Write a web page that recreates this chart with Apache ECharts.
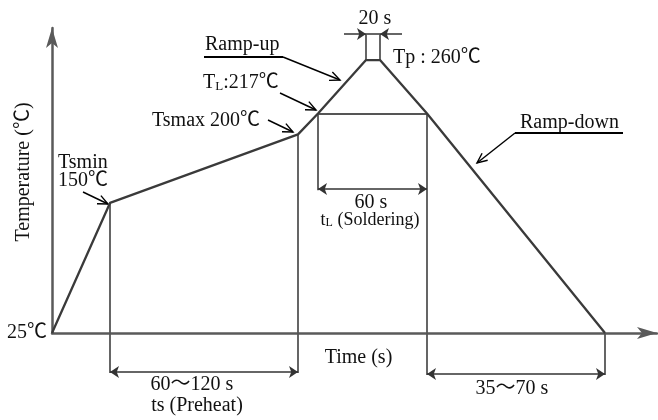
<!DOCTYPE html>
<html><head><meta charset="utf-8">
<script src="https://cdn.jsdelivr.net/npm/echarts@6/dist/echarts.min.js"></script>
<style>html,body{margin:0;padding:0;background:#fff}#c{width:658px;height:420px}</style>
</head><body><div id="c"></div>
<script>
// Reflow profile corner points as drawn (time in s, temperature in ℃)
const profileTime = [0, 29, 123, 133, 157, 164, 187.5, 276.5];
const profileTemp = [25, 137, 196, 214, 260, 260, 214, 25];
// Guide (extension) lines: [t1, T1, t2, T2]
const guideLines = [
  [29, 137, 29, -9.4],
  [123, 196, 123, -9.4],
  [133, 214, 133, 148],
  [187.5, 214, 187.5, -11.2],
  [276.5, 25, 276.5, -11.2],
  [133, 214, 187.5, 214],
  [157, 260, 157, 282.4],
  [164, 260, 164, 282.4],
  [157, 282.4, 164, 282.4]
];
// Double-headed dimension arrows: [t1, t2, T]
const dimensionLines = [
  [29, 123, -8.6],
  [133, 187.5, 149],
  [187.5, 276.5, -10.3]
];
// Peak-width arrows (pointing inward): [tFrom, tTo, T]
const peakArrows = [
  [146, 157, 282.4],
  [175, 164, 282.4]
];
const xAxisName = 'Time (s)';
const yAxisName = 'Temperature (℃)';
const ambientLabel = '25℃';

const chart = echarts.init(document.getElementById('c'), null, {renderer: 'canvas'});
const FONT = "'Liberation Serif','Times New Roman','Noto Sans CJK SC',serif";
const TXT = '#111';
const axisColor = '#5a5a5a';

function text(str, x, y, align, size, extra) {
  return Object.assign({
    type: 'text', x: x, y: y, silent: true,
    style: {text: str, fill: TXT, font: (size || 20) + 'px ' + FONT, align: align || 'left', verticalAlign: 'middle'}
  }, extra || {});
}
function richText(parts, x, y, align, size, subSize) {
  return {
    type: 'text', x: x, y: y, silent: true,
    style: {
      text: parts, align: align || 'left', verticalAlign: 'middle', fill: TXT,
      rich: {
        a: {fontFamily: FONT, fontSize: size, lineHeight: size, fill: TXT},
        s: {fontFamily: FONT, fontSize: subSize, lineHeight: subSize, fill: TXT, verticalAlign: 'bottom'}
      }
    }
  };
}
function pointer(x1, y1, x2, y2) {
  const ang = Math.atan2(y2 - y1, x2 - x1);
  const L = 11, a = 0.42;
  const p1 = [x2 - L * Math.cos(ang - a), y2 - L * Math.sin(ang - a)];
  const p2 = [x2 - L * Math.cos(ang + a), y2 - L * Math.sin(ang + a)];
  const st = {stroke: '#000', lineWidth: 1.4, fill: null};
  return [
    {type: 'line', silent: true, shape: {x1: x1, y1: y1, x2: x2, y2: y2}, style: st},
    {type: 'polyline', silent: true, shape: {points: [p1, [x2, y2], p2]}, style: st}
  ];
}

const option = {
  animation: false,
  backgroundColor: '#fff',
  grid: {left: 52, right: 1, top: 28, bottom: 87, containLabel: false, outerBoundsMode: 'none'},
  xAxis: {
    type: 'value', min: 0, max: 302.5,
    name: xAxisName, nameLocation: 'middle', nameGap: 15,
    nameTextStyle: {fontFamily: FONT, fontSize: 20, color: TXT, padding: [0, 0, 0, 8], verticalAlign: 'top'},
    axisLine: {onZero: false, symbol: ['none', 'arrow'], symbolSize: [9, 20], lineStyle: {color: axisColor, width: 2.5}},
    axisTick: {show: false}, axisLabel: {show: false}, splitLine: {show: false}
  },
  yAxis: {
    type: 'value', min: 25, max: 287.6,
    axisLine: {onZero: false, symbol: ['none', 'arrow'], symbolSize: [9, 20], lineStyle: {color: axisColor, width: 2.5}},
    axisTick: {show: false}, splitLine: {show: false},
    axisLabel: {show: true, showMinLabel: true, margin: 5, fontFamily: FONT, fontSize: 20, color: TXT,
      formatter: function (v) { return v === 25 ? ambientLabel : ''; }}
  },
  series: [
    {
      type: 'line', name: 'profile', clip: false, symbol: 'none', silent: true,
      data: profileTime.map(function (t, i) { return [t, profileTemp[i]]; }),
      lineStyle: {color: '#3a3a3a', width: 2.3, join: 'round'}, z: 5
    },
    {
      type: 'lines', coordinateSystem: 'cartesian2d', clip: false, silent: true,
      symbol: 'none',
      data: guideLines.map(function (g) { return {coords: [[g[0], g[1]], [g[2], g[3]]]}; }),
      lineStyle: {color: '#555', width: 1.8, opacity: 1}, z: 3
    },
    {
      type: 'lines', coordinateSystem: 'cartesian2d', clip: false, silent: true,
      symbol: ['arrow', 'arrow'], symbolSize: 9, symbolOffset: [0, 4.5],
      data: dimensionLines.map(function (d) { return {coords: [[d[0], d[2]], [d[1], d[2]]]}; }),
      lineStyle: {color: '#333', width: 1.5, opacity: 1}, itemStyle: {color: '#333'}, z: 4
    },
    {
      type: 'lines', coordinateSystem: 'cartesian2d', clip: false, silent: true,
      symbol: ['none', 'arrow'], symbolSize: 9, symbolOffset: [0, 4.5],
      data: peakArrows.map(function (d) { return {coords: [[d[0], d[2]], [d[1], d[2]]]}; }),
      lineStyle: {color: '#333', width: 1.5, opacity: 1}, z: 4
    }
  ]
};
chart.setOption(option);

const g = [];
g.push(text(yAxisName, 24, 172, 'center', 20, {rotation: Math.PI / 2}));
g.push(text('20 s', 375, 19, 'center', 20));
g.push(text('Tp : 260℃', 393, 58, 'left', 20));
g.push(text('Ramp-up', 205, 45, 'left', 20));
g.push({type: 'line', silent: true, shape: {x1: 204, y1: 57, x2: 283, y2: 57}, style: {stroke: '#000', lineWidth: 2}});
g.push(richText('{a|T}{s|L}{a|:217℃}', 203, 83, 'left', 20, 13));
g.push(text('Tsmax 200℃', 152, 121, 'left', 20));
g.push(text('Tsmin', 58, 163, 'left', 20));
g.push(text('150℃', 58, 181, 'left', 20));
g.push(text('Ramp-down', 520, 123, 'left', 20));
g.push({type: 'line', silent: true, shape: {x1: 515, y1: 133, x2: 623, y2: 133}, style: {stroke: '#000', lineWidth: 2}});
g.push(text('60 s', 371, 203, 'center', 20));
g.push(richText('{a|t}{s|L}{a| (Soldering)}', 370, 220, 'center', 18, 12));
g.push(text('60～120 s', 192, 385, 'center', 20));
g.push(text('ts (Preheat)', 197, 406, 'center', 20));
g.push(text('35～70 s', 512, 389, 'center', 20));
[[83, 192, 108, 204], [268, 120, 293, 132], [280, 93, 316, 110], [283, 57, 340, 80], [515, 133, 477, 163]]
  .forEach(function (p) { pointer(p[0], p[1], p[2], p[3]).forEach(function (e) { g.push(e); }); });
chart.setOption({graphic: {elements: g}});
</script></body></html>
